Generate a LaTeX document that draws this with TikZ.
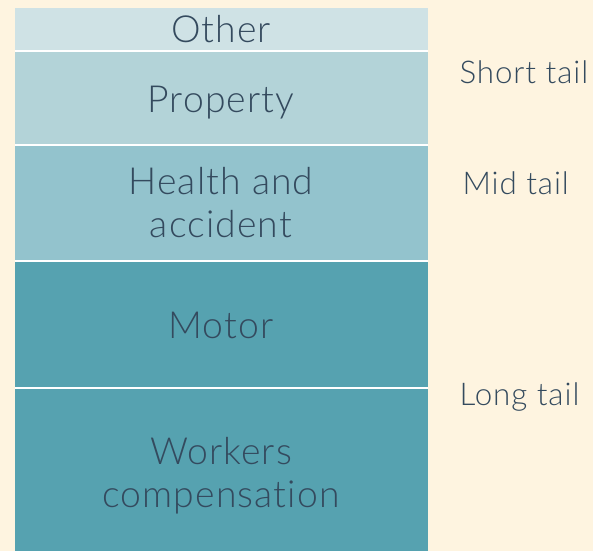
\documentclass[tikz,border=0pt]{standalone}
\usepackage{fontspec}
\setmainfont{Lato}[UprightFont=* Light, LetterSpace=3, Ligatures=NoCommon]

\definecolor{cream}{HTML}{FEF4E0}
\definecolor{inkSlate}{HTML}{344A5E}
\definecolor{tealPale}{HTML}{CFE2E5}
\definecolor{tealLight}{HTML}{B3D3D8}
\definecolor{tealMid}{HTML}{93C3CD}
\definecolor{tealDark}{HTML}{56A2B0}

\tikzset{every picture/.style={line width=0.75pt}}
\tikzset{
  seg/.style={draw=none},
  lbl/.style={inner sep=0.75pt, align=center, anchor=base, text=inkSlate, font=\fontsize{28}{32.2}\selectfont},
  tail/.style={inner sep=0.75pt, anchor=base west, text=inkSlate, font=\fontsize{23.5}{28}\selectfont}
}

\begin{document}
\begin{tikzpicture}[x=0.75pt,y=0.75pt,yscale=-1,xscale=1]
%set diagram size to 593 x 551
\useasboundingbox (0,0) rectangle (593,551);
\fill[cream] (0,0) rectangle (593,551);

%Shape: Rectangle [bar with white gaps]
\fill[white] (14.5,7.5) rectangle (428,551);
%Shape: Rectangle [other]
\fill[seg, tealPale] (14.5,7.5) rectangle (428,50);
%Shape: Rectangle [property]
\fill[seg, tealLight] (14.5,52) rectangle (428,144);
%Shape: Rectangle [health]
\fill[seg, tealMid] (14.5,146) rectangle (428,260);
%Shape: Rectangle [motor]
\fill[seg, tealDark] (14.5,262) rectangle (428,387);
%Shape: Rectangle [workers]
\fill[seg, tealDark] (14.5,389) rectangle (428,551);

% Text Node (base = last line)
\node[lbl] (other) at (221,42) {Other};
% Text Node
\node[lbl] (property) at (221,112) {Property};
% Text Node
\node[lbl] (health) at (221,237) {Health and\\accident};
% Text Node
\node[lbl] (motor) at (221,338) {Motor};
% Text Node
\node[lbl] (workers) at (221,507) {Workers\\compensation};

% Text Node
\node[tail] (short) at (458,83) {Short tail};
% Text Node
\node[tail] (mid) at (461,194) {Mid tail};
% Text Node
\node[tail] (long) at (458,405) {Long tail};

\end{tikzpicture}
\end{document}
